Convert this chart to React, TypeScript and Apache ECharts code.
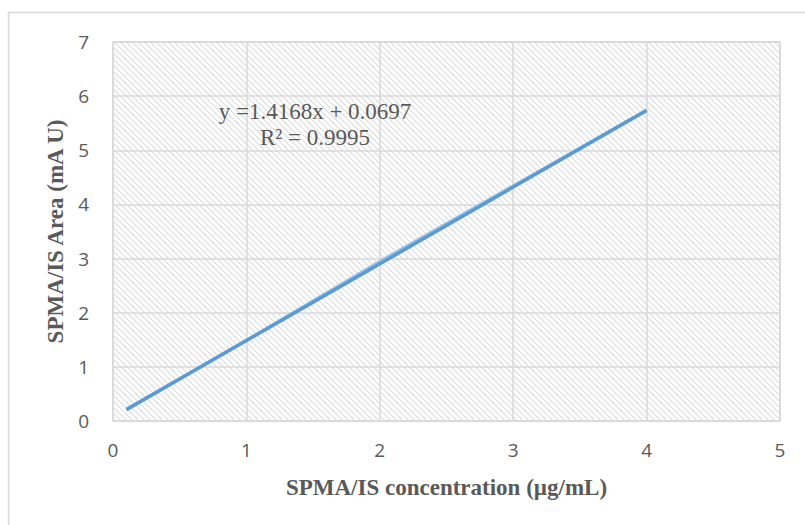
import React, { useEffect, useRef } from "react";
import * as echarts from "echarts";

const xTicks = [0, 1, 2, 3, 4, 5];
const yTicks = [0, 1, 2, 3, 4, 5, 6, 7];
const concentration = [0.1, 0.25, 0.5, 1, 2, 4];
const areaRatio = [0.21, 0.42, 0.78, 1.49, 2.95, 5.74];
const trendX = [0.1, 4];
const trendY = [0.21, 5.737];
const equationText = "y =1.4168x + 0.0697";
const r2Text = "R² = 0.9995";
const xTitle = "SPMA/IS concentration (µg/mL)";
const yTitle = "SPMA/IS Area (mA U)";

function makeHatch(): HTMLCanvasElement {
  const size = 6;
  const c = document.createElement("canvas");
  c.width = size;
  c.height = size;
  const ctx = c.getContext("2d")!;
  const img = ctx.createImageData(size, size);
  for (let y = 0; y < size; y++) {
    for (let x = 0; x < size; x++) {
      const d = ((x - y) % size + size) % size;
      let v = 255;
      if (d === 0) v = 218;
      else if (d === 1) v = 242;
      const i = (y * size + x) * 4;
      img.data[i] = v;
      img.data[i + 1] = v;
      img.data[i + 2] = v;
      img.data[i + 3] = 255;
    }
  }
  ctx.putImageData(img, 0, 0);
  return c;
}

export default function App() {
  const ref = useRef<HTMLDivElement>(null);
  useEffect(() => {
    if (!ref.current) return;
    const chart = echarts.init(ref.current, undefined, { renderer: "svg" });
    const hatch = makeHatch();
    const titleStyle = {
      fontFamily: "Liberation Serif",
      fontWeight: "bold",
      fontSize: 23,
      color: "#595959",
    };
    const tickStyle = {
      fontFamily: "Open Sans",
      fontSize: 19,
      color: "#595959",
    };
    chart.setOption({
      animation: false,
      backgroundColor: "#ffffff",
      grid: {
        left: 113,
        right: 25,
        top: 42,
        bottom: 104,
        show: true,
        backgroundColor: { image: hatch, repeat: "repeat" } as any,
        borderColor: "#d9d9d9",
        borderWidth: 1.5,
      },
      xAxis: {
        type: "value",
        min: 0,
        max: 5,
        interval: 1,
        name: xTitle,
        nameLocation: "middle",
        nameGap: 55,
        nameTextStyle: titleStyle,
        axisLine: { show: false },
        axisTick: { show: false },
        axisLabel: {
          margin: 19,
          ...tickStyle,
          formatter: (v: number) => (xTicks.includes(v) ? String(v) : ""),
        },
        splitLine: { show: true, lineStyle: { color: "#d9d9d9", width: 1.5 } },
      },
      yAxis: {
        type: "value",
        min: 0,
        max: 7,
        interval: 1,
        name: yTitle,
        nameLocation: "middle",
        nameGap: 41,
        nameTextStyle: titleStyle,
        axisLine: { show: false },
        axisTick: { show: false },
        axisLabel: {
          margin: 24,
          ...tickStyle,
          formatter: (v: number) => (yTicks.includes(v) ? String(v) : ""),
        },
        splitLine: { show: true, lineStyle: { color: "#d9d9d9", width: 1.5 } },
      },
      series: [
        {
          type: "line",
          data: concentration.map((x, i) => [x, areaRatio[i]]),
          showSymbol: false,
          lineStyle: { color: "#9dc3e6", width: 3 },
          z: 2,
        },
        {
          type: "line",
          data: trendX.map((x, i) => [x, trendY[i]]),
          showSymbol: false,
          lineStyle: { color: "#5b9bd5", width: 3.5 },
          z: 3,
        },
      ],
      graphic: [
        {
          type: "rect",
          shape: { x: 8.5, y: 12.5, width: 820, height: 540 },
          style: { fill: "none", stroke: "#d9d9d9", lineWidth: 1.5 },
          silent: true,
        },
        {
          type: "text",
          x: 315,
          y: 111,
          style: {
            text: equationText,
            fontFamily: "Liberation Serif",
            fontSize: 23,
            fill: "#595959",
            textAlign: "center",
            textVerticalAlign: "middle",
          },
          z: 10,
        },
        {
          type: "text",
          x: 315,
          y: 137,
          style: {
            text: r2Text,
            fontFamily: "Liberation Serif",
            fontSize: 23,
            fill: "#595959",
            textAlign: "center",
            textVerticalAlign: "middle",
          },
          z: 10,
        },
      ],
    });
    return () => chart.dispose();
  }, []);
  return (
    <div
      ref={ref}
      style={{ position: "fixed", left: 0, top: 0, width: 805, height: 525 }}
    />
  );
}
